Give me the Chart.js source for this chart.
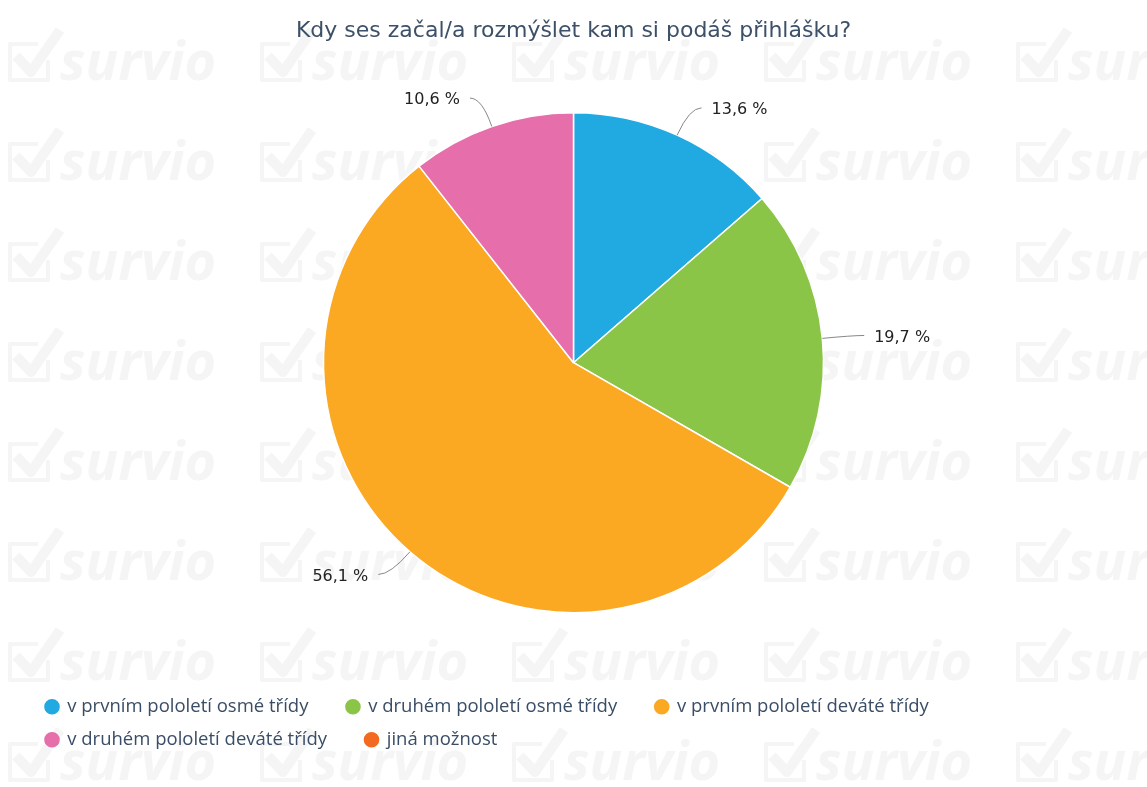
<!DOCTYPE html>
<html>
<head>
<meta charset="utf-8">
<script src="https://cdn.jsdelivr.net/npm/chart.js@4/dist/chart.umd.min.js"></script>
<style>
  html, body { margin: 0; padding: 0; background: #fff; }
  #wrap { width: 1147px; height: 787px; }
</style>
</head>
<body>
<div id="wrap"><canvas id="pieChart" width="1147" height="787"></canvas></div>
<script>
const title = 'Kdy ses začal/a rozmýšlet kam si podáš přihlášku?';
const categories = [
  'v prvním pololetí osmé třídy',
  'v druhém pololetí osmé třídy',
  'v prvním pololetí deváté třídy',
  'v druhém pololetí deváté třídy',
  'jiná možnost'
];
const percents = [13.6, 19.7, 56.1, 10.6, 0];
const colors = ['#21a9e1', '#8bc548', '#fba822', '#e56eab', '#f26a21'];

// survio watermark tiled behind the chart
const watermark = {
  id: 'watermark',
  beforeDraw(chart) {
    const ctx = chart.ctx;
    ctx.save();
    ctx.fillStyle = '#fff';
    ctx.fillRect(0, 0, chart.width, chart.height);
    ctx.fillStyle = '#f5f5f5';
    ctx.strokeStyle = '#f5f5f5';
    ctx.font = 'italic bold 54px "Open Sans"';
    ctx.textBaseline = 'alphabetic';
    ctx.lineJoin = 'round';
    for (let y = 80; y < chart.height + 60; y += 100) {
      for (let x = 10; x < chart.width; x += 252) {
        // checkbox
        ctx.lineWidth = 4;
        ctx.beginPath();
        ctx.moveTo(x + 28, y - 36);
        ctx.lineTo(x, y - 36);
        ctx.lineTo(x, y);
        ctx.lineTo(x + 38, y);
        ctx.lineTo(x + 38, y - 20);
        ctx.stroke();
        ctx.lineWidth = 10;
        ctx.beginPath();
        ctx.moveTo(x + 6, y - 24);
        ctx.lineTo(x + 21, y - 8);
        ctx.lineTo(x + 50, y - 50);
        ctx.stroke();
        ctx.fillText('survio', x + 50, y);
      }
    }
    ctx.restore();
  }
};

// outside labels with leader lines
const outLabels = {
  id: 'outLabels',
  afterDatasetsDraw(chart) {
    const ctx = chart.ctx;
    const meta = chart.getDatasetMeta(0);
    ctx.save();
    ctx.font = '16px "DejaVu Sans"';
    ctx.fillStyle = '#222';
    ctx.strokeStyle = '#888';
    ctx.lineWidth = 1;
    ctx.textBaseline = 'middle';
    meta.data.forEach((arc, i) => {
      if (!percents[i]) return;
      const p = arc.getProps(['x', 'y', 'startAngle', 'endAngle', 'outerRadius'], true);
      const a = (p.startAngle + p.endAngle) / 2;
      const x0 = p.x + Math.cos(a) * p.outerRadius;
      const y0 = p.y + Math.sin(a) * p.outerRadius;
      const x1 = p.x + Math.cos(a) * (p.outerRadius + 30);
      const y1 = p.y + Math.sin(a) * (p.outerRadius + 30);
      const right = Math.cos(a) >= 0;
      const x2 = x1 + (right ? 12 : -12);
      ctx.beginPath();
      ctx.moveTo(x0, y0);
      ctx.quadraticCurveTo(x1, y1, x2, y1);
      ctx.stroke();
      ctx.textAlign = right ? 'left' : 'right';
      ctx.fillText(percents[i].toFixed(1).replace('.', ',') + ' %', x2 + (right ? 10 : -10), y1 + 2);
    });
    ctx.restore();
  }
};

new Chart(document.getElementById('pieChart'), {
  type: 'pie',
  data: {
    labels: categories,
    datasets: [{
      data: percents,
      backgroundColor: colors,
      borderColor: '#fff',
      borderWidth: 1.5,
      radius: 250
    }]
  },
  options: {
    responsive: false,
    animation: false,
    layout: { padding: { left: 31.5, right: 31.5, top: 0, bottom: 28 } },
    plugins: {
      title: {
        display: true,
        text: title,
        color: '#3c5068',
        font: { family: 'DejaVu Sans', size: 22, weight: 'normal' },
        padding: { top: 18, bottom: -2 }
      },
      legend: {
        position: 'bottom',
        align: 'start',
        labels: {
          usePointStyle: true,
          pointStyle: 'circle',
          boxWidth: 12,
          boxHeight: 10,
          padding: 14.5,
          color: '#3a4d66',
          font: { family: 'Open Sans', size: 18.5 },
          generateLabels(chart) {
            const items = Chart.overrides.pie.plugins.legend.labels.generateLabels(chart);
            items.forEach(it => { it.text = it.text + '     '; it.strokeStyle = it.fillStyle; });
            return items;
          }
        }
      },
      tooltip: { enabled: false }
    }
  },
  plugins: [watermark, outLabels]
});
</script>
</body>
</html>
